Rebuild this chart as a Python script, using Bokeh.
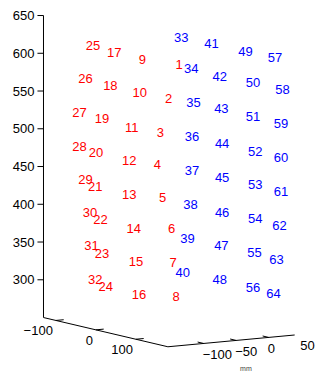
from bokeh.plotting import figure
from bokeh.models import Range1d
from bokeh.core.properties import value
from bokeh.embed import file_html
from bokeh.resources import INLINE

# ---------------- data ----------------
# electrode labels (projected horizontal position, height in mm)
red_labels = ["1", "2", "3", "4", "5", "6", "7", "8",
              "9", "10", "11", "12", "13", "14", "15", "16",
              "17", "18", "19", "20", "21", "22", "23", "24",
              "25", "26", "27", "28", "29", "30", "31", "32"]
red_h = [175, 161, 150, 146, 153, 165, 167, 171,
         126, 118, 108, 104, 104, 110, 113, 117,
         84, 79, 68, 60, 59, 66, 68, 73,
         56, 46, 38, 38, 46, 52, 54, 59]
red_z = [585, 540, 495, 453, 409, 368, 323, 278,
         592, 548, 502, 458, 413, 368, 324, 280,
         601, 557, 514, 469, 424, 380, 335, 291,
         610, 567, 522, 477, 433, 389, 345, 300]

blue_labels = ["33", "34", "35", "36", "37", "38", "39", "40",
               "41", "42", "43", "44", "45", "46", "47", "48",
               "49", "50", "51", "52", "53", "54", "55", "56",
               "57", "58", "59", "60", "61", "62", "63", "64"]
blue_h = [173, 186, 189, 187, 187, 185, 181, 175,
          213, 224, 226, 227, 227, 227, 226, 224,
          258, 268, 268, 271, 271, 271, 270, 268,
          297, 307, 305, 305, 305, 303, 299, 295]
blue_z = [621, 580, 535, 490, 445, 400, 355, 310,
          613, 569, 527, 480, 435, 389, 345, 300,
          602, 561, 516, 470, 426, 381, 336, 290,
          594, 552, 507, 462, 417, 372, 327, 282]

# axis limits and ticks (mm)
x_lim = (-131, 180)
y_lim = (-155, 40)
z_lim = (250, 650)
x_ticks = [-100, 0, 100]
x_tick_labels = ["\u2212100", "0", "100"]
y_ticks = [-100, -50, 0, 50]
y_tick_labels = ["\u2212100", "\u221250", "0", "50"]
z_ticks = [300, 350, 400, 450, 500, 550, 600, 650]
z_tick_labels = ["300", "350", "400", "450", "500", "550", "600", "650"]

# ---------------- projection of the 3-D box onto the page ----------------
HX, VX = 0.5298, -0.1245   # page units per mm along x
HY, VY = 0.861, 0.080      # page units per mm along y


def proj(x3, y3, z3):
    h = HX * (x3 - x_lim[0]) + HY * (y3 - y_lim[0])
    v = z3 + VX * (x3 - x_lim[0]) + VY * (y3 - y_lim[0])
    return h, v


FONT = value("Liberation Sans")
FS = "13px"

p = figure(width=318, height=376, output_backend="svg", toolbar_location=None,
           x_range=Range1d(-56.95, 364.24), y_range=Range1d(171.9, 669.9),
           x_axis_location=None, y_axis_location=None,
           min_border_left=0, min_border_right=0, min_border_top=0, min_border_bottom=0,
           outline_line_color=None, background_fill_color="white",
           border_fill_color="white")
p.xgrid.visible = False
p.ygrid.visible = False

# vertical (z) axis
zx, _ = proj(x_lim[0], y_lim[0], z_lim[0])
p.segment(x0=[zx], y0=[z_lim[0]], x1=[zx], y1=[z_lim[1]], line_color="black", line_width=1)
p.segment(x0=[zx] * len(z_ticks), y0=z_ticks, x1=[zx - 8] * len(z_ticks), y1=z_ticks,
          line_color="black", line_width=1)
p.text(x=[zx] * len(z_ticks), y=z_ticks, text=z_tick_labels, x_offset=-9,
       text_align="right", text_baseline="middle", text_font=FONT,
       text_font_size=FS, text_color="black")

# bottom axis lines
x0, v0 = proj(x_lim[0], y_lim[0], z_lim[0])
x1, v1 = proj(x_lim[1], y_lim[0], z_lim[0])
x2, v2 = proj(x_lim[1], y_lim[1], z_lim[0])
p.segment(x0=[x0, x1], y0=[v0, v1], x1=[x1, x2], y1=[v1, v2],
          line_color="black", line_width=1)

# x ticks
xt0 = [proj(t, y_lim[0], z_lim[0]) for t in x_ticks]
xt1 = [proj(t, y_lim[0] + 12, z_lim[0]) for t in x_ticks]
p.segment(x0=[a[0] for a in xt0], y0=[a[1] for a in xt0],
          x1=[a[0] for a in xt1], y1=[a[1] for a in xt1], line_color="black")
p.text(x=[a[0] for a in xt0], y=[a[1] for a in xt0], text=x_tick_labels,
       x_offset=-3, y_offset=6, text_align="right", text_baseline="top",
       text_font=FONT, text_font_size=FS, text_color="black")

# y ticks
yin = [t for t in y_ticks if t <= y_lim[1]]
yt0 = [proj(x_lim[1], t, z_lim[0]) for t in yin]
yt1 = [proj(x_lim[1] - 15, t, z_lim[0]) for t in yin]
p.segment(x0=[a[0] for a in yt0], y0=[a[1] for a in yt0],
          x1=[a[0] for a in yt1], y1=[a[1] for a in yt1], line_color="black")
ytl = [proj(x_lim[1], t, z_lim[0]) for t in y_ticks]
p.text(x=[a[0] for a in ytl], y=[a[1] for a in ytl], text=y_tick_labels,
       x_offset=-1, y_offset=7, text_align="left", text_baseline="top",
       text_font=FONT, text_font_size=FS, text_color="black")

# unit label
mh, mv = proj(x_lim[1], -35, z_lim[0])
p.text(x=[mh], y=[mv], text=["mm"], y_offset=29, text_align="center",
       text_baseline="middle", text_font=FONT, text_font_size="7px", text_color="#404040")

# electrodes
p.text(x=red_h, y=red_z, text=red_labels, text_color="#ff0000", text_font=FONT,
       text_font_size=FS, text_align="left", text_baseline="middle")
p.text(x=blue_h, y=blue_z, text=blue_labels, text_color="#0000ff", text_font=FONT,
       text_font_size=FS, text_align="left", text_baseline="middle")

open("out.html", "w").write(file_html(p, INLINE))
